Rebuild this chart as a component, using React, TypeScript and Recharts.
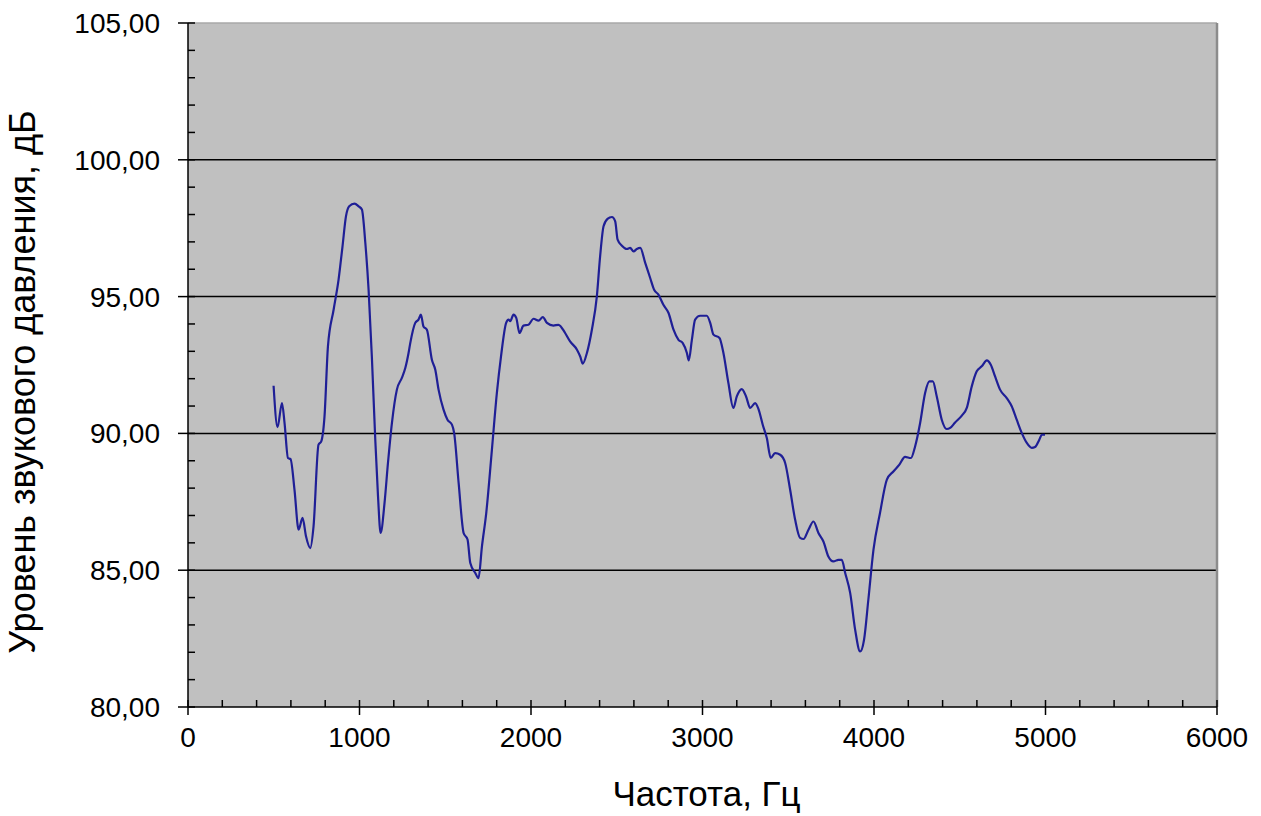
import React from 'react';
import { LineChart, Line, XAxis, YAxis, CartesianGrid, ReferenceLine } from 'recharts';

const freqs = [
  499, 522, 548, 563, 583, 598, 621, 645, 668, 688, 713, 732, 761, 777, 796, 816, 849, 878, 901, 921,
  940, 971, 995, 1014, 1034, 1053, 1072, 1092, 1108, 1123, 1146, 1166, 1189, 1218, 1247, 1267, 1286, 1296, 1325, 1344,
  1358, 1373, 1393, 1422, 1442, 1461, 1490, 1513, 1539, 1552, 1578, 1607, 1630, 1646, 1675, 1694, 1714, 1739, 1772, 1801,
  1825, 1855, 1869, 1879, 1898, 1914, 1933, 1956, 1985, 2015, 2044, 2069, 2093, 2131, 2160, 2199, 2228, 2268, 2287, 2302,
  2326, 2355, 2384, 2403, 2423, 2446, 2472, 2491, 2505, 2530, 2559, 2578, 2598, 2617, 2637, 2666, 2695, 2718, 2743, 2772,
  2802, 2831, 2860, 2885, 2909, 2920, 2938, 2957, 2986, 3025, 3045, 3064, 3099, 3122, 3151, 3180, 3200, 3229, 3254, 3278,
  3307, 3326, 3352, 3375, 3398, 3423, 3453, 3482, 3511, 3540, 3569, 3589, 3618, 3647, 3676, 3705, 3734, 3763, 3793, 3812,
  3832, 3861, 3890, 3919, 3942, 3967, 3997, 4035, 4075, 4113, 4148, 4181, 4215, 4240, 4269, 4298, 4323, 4343, 4366, 4395,
  4424, 4444, 4473, 4512, 4541, 4570, 4599, 4628, 4658, 4681, 4706, 4735, 4774, 4803, 4832, 4862, 4891, 4920, 4939, 4964,
  4978, 4997,
];

const levels = [
  91.74, 90.23, 91.11, 90.38, 89.10, 89.06, 87.94, 86.48, 86.91, 86.24, 85.81, 86.60, 89.59, 89.71, 90.62, 93.18, 94.52, 95.62, 96.84, 97.93,
  98.30, 98.40, 98.30, 98.18, 96.96, 95.25, 92.81, 89.77, 87.70, 86.36, 87.46, 88.92, 90.38, 91.60, 92.03, 92.39, 92.94, 93.30, 94.04, 94.16,
  94.34, 93.91, 93.79, 92.69, 92.33, 91.60, 90.87, 90.50, 90.32, 90.01, 88.19, 86.36, 86.12, 85.26, 84.90, 84.71, 85.87, 87.09, 89.40, 91.48,
  92.81, 94.04, 94.16, 94.10, 94.34, 94.22, 93.67, 93.94, 93.97, 94.19, 94.12, 94.25, 94.04, 93.94, 93.97, 93.67, 93.36, 93.06, 92.81, 92.55,
  92.94, 93.79, 95.01, 96.47, 97.57, 97.84, 97.91, 97.75, 97.08, 96.86, 96.74, 96.78, 96.65, 96.74, 96.78, 96.23, 95.68, 95.25, 95.07, 94.70,
  94.40, 93.79, 93.42, 93.30, 92.94, 92.67, 93.42, 94.16, 94.30, 94.30, 94.04, 93.61, 93.49, 92.94, 91.84, 90.93, 91.35, 91.62, 91.35, 90.93,
  91.11, 90.90, 90.30, 89.83, 89.10, 89.28, 89.22, 88.92, 87.94, 86.85, 86.18, 86.14, 86.48, 86.78, 86.36, 86.05, 85.50, 85.32, 85.38, 85.38,
  84.90, 84.17, 82.83, 82.03, 82.46, 83.92, 85.75, 87.09, 88.31, 88.61, 88.86, 89.14, 89.10, 89.53, 90.38, 91.48, 91.90, 91.90, 91.35, 90.50,
  90.16, 90.20, 90.40, 90.65, 90.93, 91.72, 92.27, 92.45, 92.67, 92.51, 92.08, 91.60, 91.29, 90.99, 90.50, 90.01, 89.65, 89.47, 89.50, 89.77,
  89.95, 89.95,
];

const xMajorTicks = [0, 1000, 2000, 3000, 4000, 5000, 6000];
const xAllTicks = [
  0, 200, 400, 600, 800, 1000, 1200, 1400, 1600, 1800, 2000, 2200, 2400, 2600, 2800, 3000,
  3200, 3400, 3600, 3800, 4000, 4200, 4400, 4600, 4800, 5000, 5200, 5400, 5600, 5800, 6000,
];
const yMajorTicks = [80, 85, 90, 95, 100, 105];
const yAllTicks = [
  80, 81, 82, 83, 84, 85, 86, 87, 88, 89, 90, 91, 92, 93, 94, 95, 96, 97, 98, 99, 100, 101, 102, 103, 104, 105,
];
const gridValues = [85, 90, 95, 100];

const xTitle = 'Частота, Гц';
const yTitle = 'Уровень звукового давления, дБ';

const data = freqs.map((f, i) => ({ f, v: levels[i] }));

const FONT = '"Liberation Sans", Arial, sans-serif';

const fmtY = (v: number) => v.toFixed(2).replace('.', ',');

const X_TICK_OUT = 8;
const X_TICK_MARGIN = 12;
const Y_TICK_OUT = 10;
const Y_TICK_MARGIN = 18;
const TICK_IN = 7;

const XTick = (props: any) => {
  const { x, y, payload } = props;
  const v = payload.value;
  const axisY = y - X_TICK_OUT - X_TICK_MARGIN;
  const major = xMajorTicks.includes(v);
  return (
    <g>
      <line
        x1={x}
        x2={x}
        y1={axisY - TICK_IN}
        y2={major ? axisY + X_TICK_OUT : axisY}
        stroke="#000"
        strokeWidth={1.5}
      />
      {major && (
        <text x={x} y={y} dy="0.71em" textAnchor="middle" fontSize={28} fontFamily={FONT} fill="#000">
          {String(v)}
        </text>
      )}
    </g>
  );
};

const YTick = (props: any) => {
  const { x, y, payload } = props;
  const v = payload.value;
  const axisX = x + Y_TICK_OUT + Y_TICK_MARGIN;
  const major = yMajorTicks.includes(v);
  return (
    <g>
      <line
        x1={major ? axisX - Y_TICK_OUT : axisX}
        x2={axisX + TICK_IN}
        y1={y}
        y2={y}
        stroke="#000"
        strokeWidth={1.5}
      />
      {major && (
        <text x={x} y={y} dy="0.355em" textAnchor="end" fontSize={28} fontFamily={FONT} fill="#000">
          {fmtY(v)}
        </text>
      )}
    </g>
  );
};

const YTitle = (props: any) => {
  const vb = props.viewBox || {};
  const cy = vb.y + vb.height / 2 + 17;
  const x = 35;
  return (
    <text
      x={x}
      y={cy}
      transform={`rotate(-90, ${x}, ${cy})`}
      textAnchor="middle"
      fontSize={36}
      fontFamily={FONT}
      fill="#000"
    >
      {yTitle}
    </text>
  );
};

const XTitle = (props: any) => {
  const vb = props.viewBox || {};
  const cx = vb.x + vb.width / 2 + 4;
  return (
    <text x={cx} y={806} textAnchor="middle" fontSize={35} fontFamily={FONT} fill="#000">
      {xTitle}
    </text>
  );
};

export default function App() {
  return (
    <div style={{ position: 'absolute', left: 0, top: 0, width: 1261, height: 816, background: '#fff' }}>
      <LineChart
        width={1261}
        height={816}
        data={data}
        margin={{ top: 23, right: 44, bottom: 0, left: 0 }}
        style={{ fontFamily: FONT }}
      >
        <CartesianGrid
          fill="#C0C0C0"
          vertical={false}
          horizontalValues={gridValues}
          stroke="#000"
          strokeWidth={1.5}
          strokeOpacity={1}
        />
        <ReferenceLine y={105} stroke="#a8a8a8" strokeWidth={1.5} />
        <ReferenceLine x={6000} stroke="#8c8c8c" strokeWidth={2.5} />
        <XAxis
          dataKey="f"
          type="number"
          domain={[0, 6000]}
          ticks={xAllTicks}
          interval={0}
          height={109}
          tickSize={X_TICK_OUT}
          tickMargin={X_TICK_MARGIN}
          axisLine={{ stroke: '#000', strokeWidth: 1.5 }}
          tickLine={false}
          tick={<XTick />}
          label={<XTitle />}
        />
        <YAxis
          type="number"
          domain={[80, 105]}
          ticks={yAllTicks}
          interval={0}
          width={188}
          tickSize={Y_TICK_OUT}
          tickMargin={Y_TICK_MARGIN}
          axisLine={{ stroke: '#000', strokeWidth: 1.5 }}
          tickLine={false}
          tick={<YTick />}
          label={<YTitle />}
        />
        <Line
          type="monotone"
          dataKey="v"
          stroke="#1F1F96"
          strokeWidth={2.2}
          dot={false}
          isAnimationActive={false}
        />
      </LineChart>
    </div>
  );
}
